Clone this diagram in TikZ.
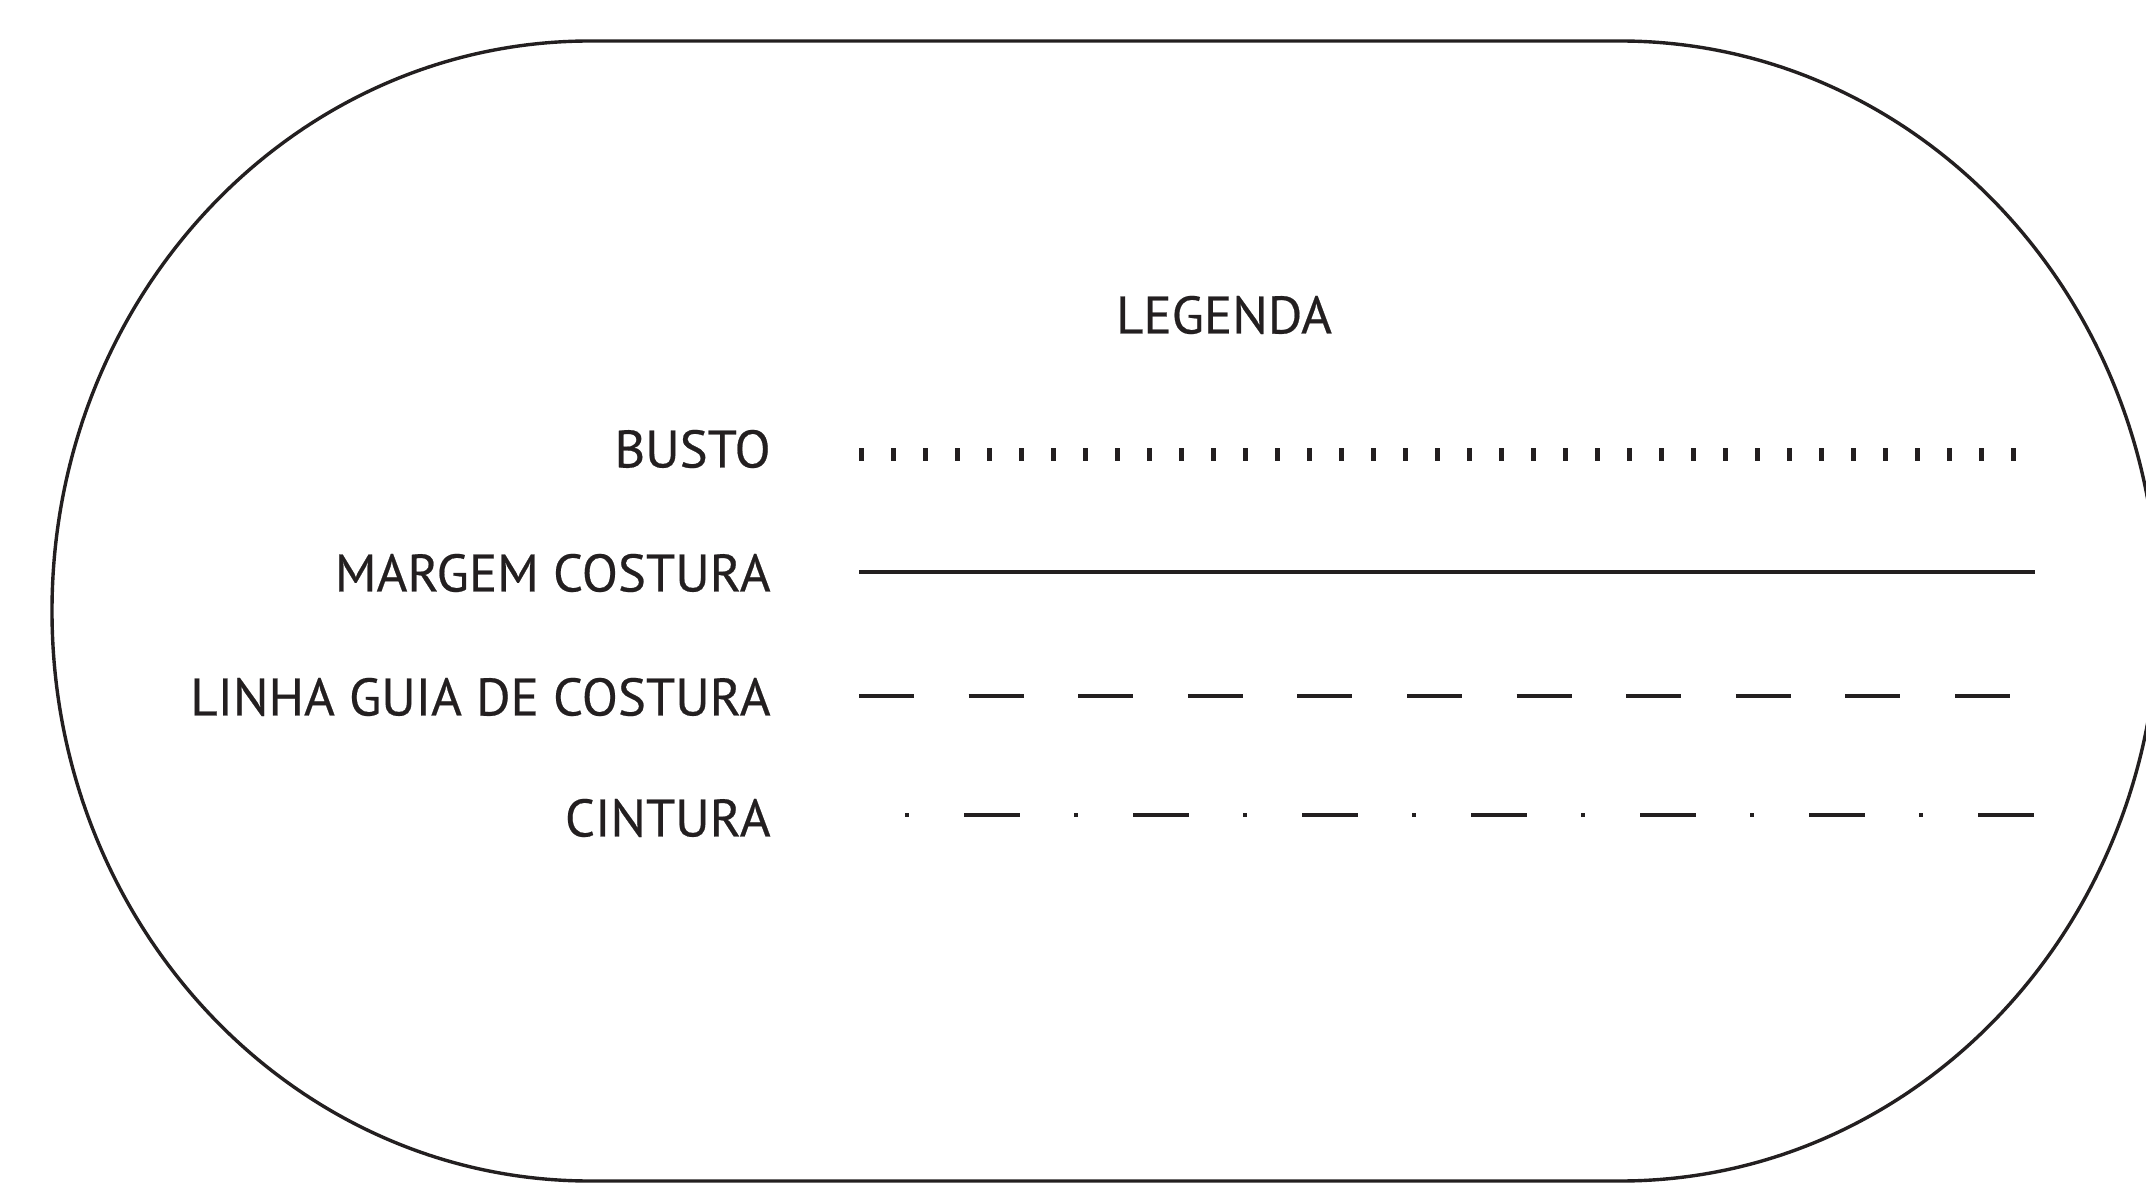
\documentclass[tikz,border=0pt]{standalone}
\usepackage{fontspec}
\setmainfont{PT Sans}[FakeBold=0.4]
\definecolor{ink}{HTML}{231F20}
\begin{document}
\begin{tikzpicture}[x=0.5pt,y=0.5pt,
  outline/.style={draw=ink,line width=1.7pt},
  lbl/.style={text=ink,inner sep=0pt,font=\fontsize{26.4pt}{30pt}\selectfont},
  bustoline/.style={draw=ink,line width=6.5pt,dash pattern=on 2.4pt off 13.6pt},
  solidline/.style={draw=ink,line width=1.9pt},
  guideline/.style={draw=ink,line width=2pt,dash pattern=on 27.5pt off 27.3pt},
  waistline/.style={draw=ink,line width=2pt,dash pattern=on 2.2pt off 27.3pt on 28pt off 27pt}]
\clip (0,0) rectangle (2146,1185);
\fill[white] (0,0) rectangle (2146,1185);
\draw[outline] (590,1144) -- (1620,1144)
  arc[start angle=90,end angle=-90,x radius=269pt,y radius=285pt]
  -- (590,4)
  arc[start angle=270,end angle=90,x radius=269pt,y radius=285pt] -- cycle;
\node[lbl] (legenda) at (1224,870) {LEGENDA};
\node[lbl,anchor=east] (busto) at (771,736) {BUSTO};
\node[lbl,anchor=east] (margem) at (771,612) {MARGEM COSTURA};
\node[lbl,anchor=east] (linha) at (771,488) {LINHA GUIA DE COSTURA};
\node[lbl,anchor=east] (cintura) at (771,367) {CINTURA};
\coordinate (b1) at (859,730); \coordinate (b2) at (2016,730);
\coordinate (m1) at (859,613); \coordinate (m2) at (2035,613);
\coordinate (l1) at (859,489); \coordinate (l2) at (2010,489);
\coordinate (c1) at (905,370); \coordinate (c2) at (2036,370);
\draw[bustoline] (b1) -- (b2);
\draw[solidline] (m1) -- (m2);
\draw[guideline] (l1) -- (l2);
\draw[waistline] (c1) -- (c2);
\end{tikzpicture}
\end{document}
